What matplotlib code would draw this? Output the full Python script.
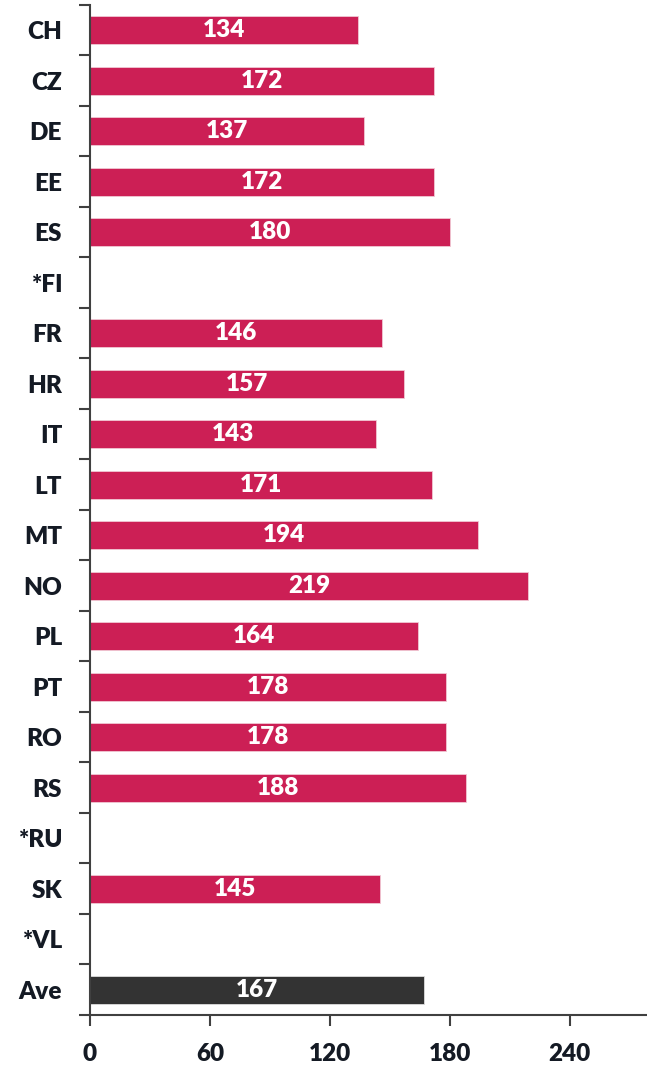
import numpy as np
import matplotlib.pyplot as plt
from matplotlib.ticker import FixedLocator

countries = ["CH", "CZ", "DE", "EE", "ES", "*FI", "FR", "HR", "IT", "LT",
             "MT", "NO", "PL", "PT", "RO", "RS", "*RU", "SK", "*VL", "Ave"]
values = [134, 172, 137, 172, 180, np.nan, 146, 157, 143, 171,
          194, 219, 164, 178, 178, 188, np.nan, 145, np.nan, 167]
x_ticks = [0, 60, 120, 180, 240]

BAR_COLOR = "#CC1F55"
AVE_COLOR = "#333333"
AXIS_COLOR = "#404040"
WEIGHT = "heavy"

plt.rcParams["font.family"] = ["Lato", "DejaVu Sans"]

fig = plt.figure(figsize=(6.47, 10.70), dpi=100)
ax = fig.add_axes([0.139, 0.0514, 0.862, 0.944])

n = len(countries)
ypos = np.arange(n)
colors = [AVE_COLOR if c == "Ave" else BAR_COLOR for c in countries]
vals = np.nan_to_num(np.array(values, dtype=float), nan=0.0)

bars = ax.barh(ypos, vals, height=0.56, color=colors,
               edgecolor="#f0c8d4", linewidth=0.6)
bars[-1].set_edgecolor("#dddddd")

for y, v in zip(ypos, values):
    if np.isnan(v):
        continue
    ax.text(v / 2, y, f"{v:.0f}", ha="center", va="center",
            color="white", fontsize=17.5, fontweight=WEIGHT)

ax.set_ylim(n - 0.5, -0.5)
ax.set_xlim(0, 279)

# labels at category centres, tick marks at boundaries
ax.yaxis.set_major_locator(FixedLocator(np.arange(n + 1) - 0.5))
ax.set_yticklabels([])
ax.set_yticks(ypos, minor=True)
ax.set_yticklabels(countries, minor=True)
ax.tick_params(axis="y", which="major", direction="out", length=8,
               width=1.5, color=AXIS_COLOR)
ax.tick_params(axis="y", which="minor", length=0, pad=20,
               labelsize=17.5, labelcolor="#141a24")
for lbl in ax.get_yticklabels(minor=True):
    lbl.set_fontweight(WEIGHT)

ax.set_xticks(x_ticks)
ax.tick_params(axis="x", direction="out", length=8, width=1.5,
               color=AXIS_COLOR, labelsize=17.5, labelcolor="#141a24", pad=12)
for lbl in ax.get_xticklabels():
    lbl.set_fontweight(WEIGHT)

for side in ["top", "right"]:
    ax.spines[side].set_visible(False)
for side in ["left", "bottom"]:
    ax.spines[side].set_color(AXIS_COLOR)
    ax.spines[side].set_linewidth(1.5)

fig.savefig("out.png", dpi=100)
